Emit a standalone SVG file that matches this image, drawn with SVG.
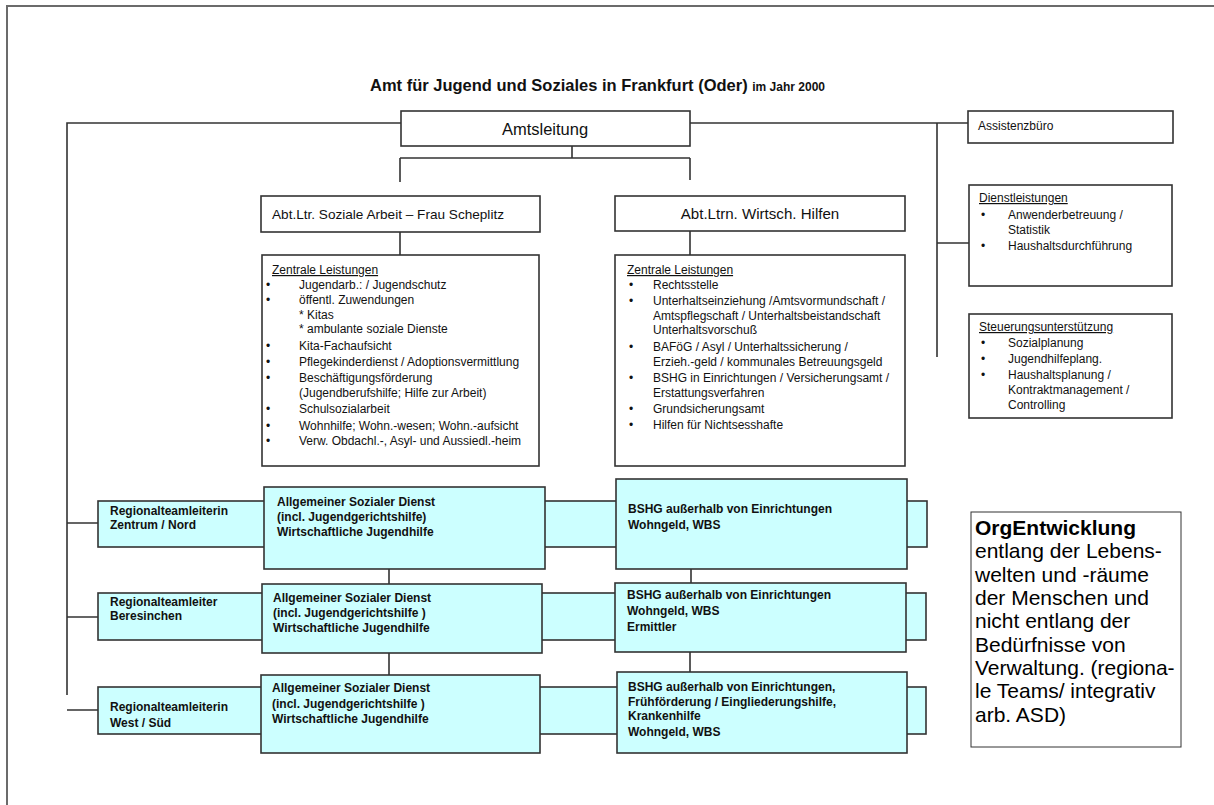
<svg xmlns="http://www.w3.org/2000/svg" width="1214" height="805" viewBox="0 0 1214 805">
<style>
.bg{fill:#ffffff}
.box{fill:#ffffff;stroke:#333333;stroke-width:1.6}
.cy{fill:#ccffff;stroke:#333333;stroke-width:1.6}
.ln{fill:none;stroke:#333333;stroke-width:1.6}
.frame{fill:none;stroke:#6b6b6b;stroke-width:2}
.t{font-family:"Liberation Sans",Arial,sans-serif;font-size:12px;fill:#111111}
.b{font-weight:bold}
.u{text-decoration:underline}
.big{font-family:"Liberation Sans",Arial,sans-serif;font-size:21px;fill:#000000}
</style>
<rect class="bg" x="0" y="0" width="1214" height="805"/>
<path class="frame" d="M7,805 V6 H1214"/>

<text id="title" class="t b" x="370" y="91" style="font-size:16.5px">Amt für Jugend und Soziales in Frankfurt (Oder) <tspan style="font-size:12px">im Jahr 2000</tspan></text>

<g id="connectors">
<path class="ln" d="M401,123 H67 V695"/>
<path class="ln" d="M67,523 H98 M67,617 H98 M67,710 H98"/>
<path class="ln" d="M690,123 H968 M937,123 V357 M937,243 H969"/>
<path class="ln" d="M572,146 V158 M400,158 H690 M400,158 V182 M690,158 V180"/>
<path class="ln" d="M400,232 V255 M690,231 V255"/>
<path class="ln" d="M389,569 V584 M389,653 V675"/>
<path class="ln" d="M691,569 V583 M690,652 V672"/>
</g>

<g id="amtsleitung">
<rect class="box" x="401" y="111" width="289" height="35"/>
<text class="t" x="545" y="134.5" text-anchor="middle" style="font-size:16.5px">Amtsleitung</text>
</g>

<g id="assistenzbuero">
<rect class="box" x="968" y="111" width="205" height="32"/>
<text class="t" x="978" y="130">Assistenzbüro</text>
</g>

<g id="dienstleistungen">
<rect class="box" x="969" y="185" width="203" height="101"/>
<text class="t u" x="979" y="202">Dienstleistungen</text>
<text class="t" x="981" y="219">•</text>
<text class="t" x="1008" y="219">Anwenderbetreuung /</text>
<text class="t" x="1008" y="234">Statistik</text>
<text class="t" x="981" y="250">•</text>
<text class="t" x="1008" y="250">Haushaltsdurchführung</text>
</g>

<g id="steuerung">
<rect class="box" x="969" y="314" width="203" height="104"/>
<text class="t u" x="979" y="331">Steuerungsunterstützung</text>
<text class="t" x="981" y="347">•</text>
<text class="t" x="1008" y="347">Sozialplanung</text>
<text class="t" x="981" y="363">•</text>
<text class="t" x="1008" y="363">Jugendhilfeplang.</text>
<text class="t" x="981" y="379">•</text>
<text class="t" x="1008" y="379">Haushaltsplanung /</text>
<text class="t" x="1008" y="394">Kontraktmanagement /</text>
<text class="t" x="1008" y="409">Controlling</text>
</g>

<g id="abt-soziale-arbeit">
<rect class="box" x="261" y="196" width="279" height="36"/>
<text class="t" x="272" y="218.5" style="font-size:13.6px">Abt.Ltr. Soziale Arbeit – Frau Scheplitz</text>
</g>

<g id="abt-wirtsch-hilfen">
<rect class="box" x="615" y="196" width="290" height="35"/>
<text class="t" x="760" y="219" text-anchor="middle" style="font-size:15.1px">Abt.Ltrn. Wirtsch. Hilfen</text>
</g>

<g id="zentrale-links">
<rect class="box" x="262" y="255" width="277" height="211"/>
<text class="t u" x="272" y="274">Zentrale Leistungen</text>
<text class="t" x="266" y="289">•</text><text class="t" x="299" y="289">Jugendarb.: / Jugendschutz</text>
<text class="t" x="266" y="304">•</text><text class="t" x="299" y="304">öffentl. Zuwendungen</text>
<text class="t" x="299" y="319">* Kitas</text>
<text class="t" x="299" y="333">* ambulante soziale Dienste</text>
<text class="t" x="266" y="350">•</text><text class="t" x="299" y="350">Kita-Fachaufsicht</text>
<text class="t" x="266" y="366">•</text><text class="t" x="299" y="366">Pflegekinderdienst / Adoptionsvermittlung</text>
<text class="t" x="266" y="382">•</text><text class="t" x="299" y="382">Beschäftigungsförderung</text>
<text class="t" x="299" y="397">(Jugendberufshilfe; Hilfe zur Arbeit)</text>
<text class="t" x="266" y="413">•</text><text class="t" x="299" y="413">Schulsozialarbeit</text>
<text class="t" x="266" y="430">•</text><text class="t" x="299" y="430">Wohnhilfe; Wohn.-wesen; Wohn.-aufsicht</text>
<text class="t" x="266" y="445">•</text><text class="t" x="299" y="445">Verw. Obdachl.-, Asyl- und Aussiedl.-heim</text>
</g>

<g id="zentrale-rechts">
<rect class="box" x="615" y="255" width="290" height="211"/>
<text class="t u" x="627" y="274">Zentrale Leistungen</text>
<text class="t" x="629" y="289">•</text><text class="t" x="653" y="289">Rechtsstelle</text>
<text class="t" x="629" y="305">•</text><text class="t" x="653" y="305">Unterhaltseinziehung /Amtsvormundschaft /</text>
<text class="t" x="653" y="320">Amtspflegschaft / Unterhaltsbeistandschaft</text>
<text class="t" x="653" y="334">Unterhaltsvorschuß</text>
<text class="t" x="629" y="351">•</text><text class="t" x="653" y="351">BAFöG / Asyl / Unterhaltssicherung /</text>
<text class="t" x="653" y="366">Erzieh.-geld / kommunales Betreuungsgeld</text>
<text class="t" x="629" y="382">•</text><text class="t" x="653" y="382">BSHG in Einrichtungen / Versicherungsamt /</text>
<text class="t" x="653" y="397">Erstattungsverfahren</text>
<text class="t" x="629" y="413">•</text><text class="t" x="653" y="413">Grundsicherungsamt</text>
<text class="t" x="629" y="429">•</text><text class="t" x="653" y="429">Hilfen für Nichtsesshafte</text>
</g>

<g id="band-1"><rect class="cy" x="98" y="501" width="829" height="46"/></g>
<g id="band-2"><rect class="cy" x="98" y="593" width="828" height="47"/></g>
<g id="band-3"><rect class="cy" x="98" y="687" width="828" height="47"/></g>

<g id="regional-1">
<text class="t b" x="110" y="515">Regionalteamleiterin</text>
<text class="t b" x="110" y="529">Zentrum / Nord</text>
</g>
<g id="asd-1">
<rect class="cy" x="264" y="487" width="281" height="82"/>
<text class="t b" x="277" y="506">Allgemeiner Sozialer Dienst</text>
<text class="t b" x="277" y="521">(incl. Jugendgerichtshilfe)</text>
<text class="t b" x="277" y="536">Wirtschaftliche Jugendhilfe</text>
</g>
<g id="bshg-1">
<rect class="cy" x="616" y="479" width="291" height="90"/>
<text class="t b" x="628" y="513">BSHG außerhalb von Einrichtungen</text>
<text class="t b" x="628" y="529">Wohngeld, WBS</text>
</g>

<g id="regional-2">
<text class="t b" x="110" y="606">Regionalteamleiter</text>
<text class="t b" x="110" y="620">Beresinchen</text>
</g>
<g id="asd-2">
<rect class="cy" x="262" y="584" width="280" height="69"/>
<text class="t b" x="273" y="602">Allgemeiner Sozialer Dienst</text>
<text class="t b" x="273" y="617">(incl. Jugendgerichtshilfe )</text>
<text class="t b" x="273" y="632">Wirtschaftliche Jugendhilfe</text>
</g>
<g id="bshg-2">
<rect class="cy" x="615" y="583" width="291" height="69"/>
<text class="t b" x="627" y="599">BSHG außerhalb von Einrichtungen</text>
<text class="t b" x="627" y="615">Wohngeld, WBS</text>
<text class="t b" x="627" y="631">Ermittler</text>
</g>

<g id="regional-3">
<text class="t b" x="110" y="711">Regionalteamleiterin</text>
<text class="t b" x="110" y="727">West / Süd</text>
</g>
<g id="asd-3">
<rect class="cy" x="261" y="675" width="279" height="78"/>
<text class="t b" x="272" y="692">Allgemeiner Sozialer Dienst</text>
<text class="t b" x="272" y="708">(incl. Jugendgerichtshilfe )</text>
<text class="t b" x="272" y="723">Wirtschaftliche Jugendhilfe</text>
</g>
<g id="bshg-3">
<rect class="cy" x="617" y="672" width="290" height="81"/>
<text class="t b" x="628" y="691">BSHG außerhalb von Einrichtungen,</text>
<text class="t b" x="628" y="706">Frühförderung / Eingliederungshilfe,</text>
<text class="t b" x="628" y="720">Krankenhilfe</text>
<text class="t b" x="628" y="736">Wohngeld, WBS</text>
</g>

<g id="orgentwicklung">
<rect x="971" y="512" width="210" height="235" fill="#ffffff" stroke="#333333" stroke-width="1"/>
<text class="big" x="975" y="535" font-weight="bold">OrgEntwicklung</text>
<text class="big" x="975" y="558">entlang der Lebens-</text>
<text class="big" x="975" y="581.5">welten und -räume</text>
<text class="big" x="975" y="605">der Menschen und</text>
<text class="big" x="975" y="628">nicht entlang der</text>
<text class="big" x="975" y="651.5">Bedürfnisse von</text>
<text class="big" x="975" y="675">Verwaltung. (regiona-</text>
<text class="big" x="975" y="698">le Teams/ integrativ</text>
<text class="big" x="975" y="721.5">arb. ASD)</text>
</g>
</svg>
